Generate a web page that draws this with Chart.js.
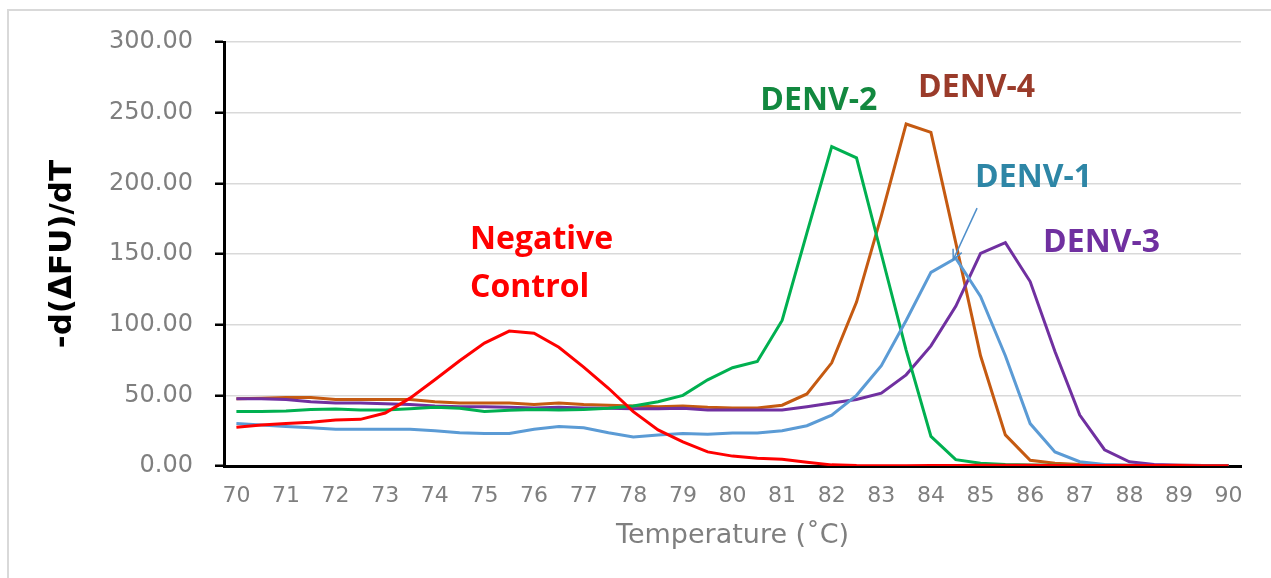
<!DOCTYPE html>
<html>
<head>
<meta charset="utf-8">
<script src="https://cdn.jsdelivr.net/npm/chart.js@4.4.1/dist/chart.umd.min.js"></script>
<style>
  html, body { margin: 0; padding: 0; background: #fff; }
  #wrap { position: absolute; left: 0; top: 0; width: 1271px; height: 578px; }
</style>
</head>
<body>
<div id="wrap"><canvas id="melt"></canvas></div>
<script>
// temperature steps (°C)
const temps = [70, 70.5, 71, 71.5, 72, 72.5, 73, 73.5, 74, 74.5, 75, 75.5, 76, 76.5, 77, 77.5, 78, 78.5, 79, 79.5,
  80, 80.5, 81, 81.5, 82, 82.5, 83, 83.5, 84, 84.5, 85, 85.5, 86, 86.5, 87, 87.5, 88, 88.5, 89, 89.5, 90];
const xTickLabels = [70, 71, 72, 73, 74, 75, 76, 77, 78, 79, 80, 81, 82, 83, 84, 85, 86, 87, 88, 89, 90];

// -d(dFU)/dT values
const negControl = [27.5, 29, 30, 31, 32.5, 33, 37.5, 48, 61, 74.5, 87, 95.5, 94, 84, 70, 55, 38.5, 25.5, 17, 10,
  7, 5.5, 4.7, 2.6, 0.8, 0.3, 0.2, 0.2, 0.3, 0.4, 0.5, 0.5, 0.5, 0.4, 0.4, 0.3, 0.3, 0.3, 0.3, 0.2, 0.2];
const denv1 = [30, 29, 28, 27, 26, 26, 26, 26, 25, 23.5, 23, 23, 26, 28, 27, 23.5, 20.5, 22, 23, 22.5,
  23.3, 23.3, 25, 28.5, 36, 50, 71, 103, 137, 147, 120, 78, 30, 10, 3, 1, 0.5, 0.3, 0.3, 0.2, 0.2];
const denv2 = [38.5, 38.5, 39, 40, 40.3, 39.6, 39.6, 40.5, 41.5, 40.8, 38.5, 39.5, 40, 39.6, 40, 40.8, 42.5, 45.5, 50, 61,
  69.5, 74, 103, 165, 226, 218, 150, 82, 21, 4.5, 2, 1, 0.7, 0.5, 0.4, 0.3, 0.3, 0.3, 0.2, 0.2, 0.2];
const denv3 = [47.5, 47.5, 47, 45.5, 44.5, 44.5, 44, 43.5, 42.5, 42, 42, 41.5, 41, 41.5, 41, 40.8, 40.5, 40.5, 40.8, 39.6,
  39.6, 39.6, 39.6, 42, 44.5, 47, 51.5, 64.5, 85, 113, 150.5, 158, 130.5, 81, 36, 11.5, 3, 1, 0.5, 0.3, 0.3];
const denv4 = [47.5, 48, 48.5, 48.5, 47, 47, 47, 47, 45.5, 44.5, 44.5, 44.5, 43.5, 44.5, 43.5, 43, 42.5, 42, 42.5, 41.5,
  41, 41, 43, 51, 73, 116, 177, 242, 236, 158, 78, 22, 4, 2, 1, 0.7, 0.5, 0.5, 0.5, 0.4, 0.4];

// text labels placed in data coordinates [temp, value]
const notes = [
  { text: "Negative", at: [74.71, 160], color: "#ff0000" },
  { text: "Control", at: [74.71, 126], color: "#ff0000" },
  { text: "DENV-2", at: [80.56, 258], color: "#12883f" },
  { text: "DENV-4", at: [83.74, 267.5], color: "#9a3b2a" },
  { text: "DENV-1", at: [84.89, 203.8], color: "#2e86a6" },
  { text: "DENV-3", at: [86.26, 157.8], color: "#7030a0" },
];
const arrowFrom = [84.93, 182.5];
const arrowTo = [84.45, 146];

function pts(vals) {
  return vals.map((v, i) => ({ x: temps[i], y: v }));
}

const extras = {
  id: "extras",
  beforeDraw(chart) {
    const c = chart.ctx;
    c.save();
    c.strokeStyle = "#d9d9d9";
    c.lineWidth = 2;
    c.beginPath();
    c.moveTo(8, 578);
    c.lineTo(8, 10);
    c.lineTo(1271, 10);
    c.stroke();
    c.restore();
  },
  afterDraw(chart) {
    const c = chart.ctx;
    const xs = chart.scales.x, ys = chart.scales.y;
    c.save();
    c.font = "bold 32px 'Open Sans'";
    c.textAlign = "left";
    c.textBaseline = "middle";
    notes.forEach((n) => {
      c.fillStyle = n.color;
      c.fillText(n.text, xs.getPixelForValue(n.at[0]), ys.getPixelForValue(n.at[1]));
    });
    // arrow DENV-1
    const x1 = xs.getPixelForValue(arrowFrom[0]), y1 = ys.getPixelForValue(arrowFrom[1]);
    const x2 = xs.getPixelForValue(arrowTo[0]), y2 = ys.getPixelForValue(arrowTo[1]);
    c.strokeStyle = "#4f8fca";
    c.lineWidth = 1.5;
    c.beginPath();
    c.moveTo(x1, y1);
    c.lineTo(x2, y2);
    c.stroke();
    const ang = Math.atan2(y2 - y1, x2 - x1);
    c.beginPath();
    c.moveTo(x2 - 11 * Math.cos(ang - 0.45), y2 - 11 * Math.sin(ang - 0.45));
    c.lineTo(x2, y2);
    c.lineTo(x2 - 11 * Math.cos(ang + 0.45), y2 - 11 * Math.sin(ang + 0.45));
    c.stroke();
    c.restore();
  },
};

const line = (label, vals, color) => ({
  label: label,
  data: pts(vals),
  borderColor: color,
  backgroundColor: color,
  borderWidth: 3,
  pointRadius: 0,
  tension: 0,
  fill: false,
});

new Chart(document.getElementById("melt"), {
  type: "line",
  data: {
    datasets: [
      line("Negative Control", negControl, "#ff0000"),
      line("DENV-1", denv1, "#5b9bd5"),
      line("DENV-2", denv2, "#00b050"),
      line("DENV-3", denv3, "#7030a0"),
      line("DENV-4", denv4, "#c55a11"),
    ],
  },
  options: {
    responsive: true,
    maintainAspectRatio: false,
    animation: false,
    events: [],
    layout: { padding: { left: 44, right: 30, top: 42, bottom: 20 } },
    plugins: { legend: { display: false }, tooltip: { enabled: false } },
    scales: {
      x: {
        type: "linear",
        min: 69.75,
        max: 90.25,
        afterBuildTicks: (s) => { s.ticks = xTickLabels.map((v) => ({ value: v })); },
        afterFit: (s) => { s.height = 578 - 20 - 466; },
        grid: { display: true, color: "rgba(0,0,0,0)", drawOnChartArea: false, drawTicks: false },
        border: { display: true, color: "#000", width: 3 },
        ticks: {
          autoSkip: false,
          maxRotation: 0,
          padding: 17,
          color: "#7f7f7f",
          font: { family: "DejaVu Sans", size: 22 },
        },
        title: {
          display: true,
          text: "Temperature (˚C)",
          color: "#7f7f7f",
          font: { family: "DejaVu Sans", size: 27 },
          padding: { top: 0, bottom: 6 },
        },
      },
      y: {
        min: 0,
        max: 300,
        afterFit: (s) => { s.width = 224 - 44; },
        grid: { color: "#d9d9d9", lineWidth: 1.5, tickColor: "#000", tickLength: 9, tickWidth: 2.5 },
        border: { display: true, color: "#000", width: 3 },
        ticks: {
          stepSize: 50,
          padding: 22,
          color: "#7f7f7f",
          font: { family: "DejaVu Sans", size: 24 },
          callback: (v) => v.toFixed(2),
        },
        title: {
          display: true,
          text: "-d(ΔFU)/dT",
          color: "#000",
          font: { family: "DejaVu Sans", size: 31, weight: "bold" },
          padding: { top: 0, bottom: 0 },
        },
      },
    },
  },
  plugins: [extras],
});
</script>
</body>
</html>
